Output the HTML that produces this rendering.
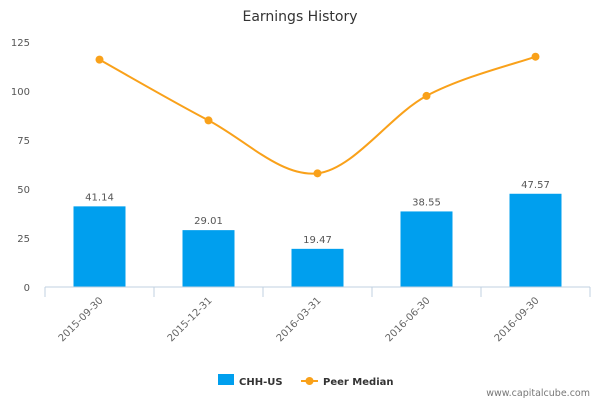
<!DOCTYPE html>
<html><head><meta charset="utf-8"><style>
html,body{margin:0;padding:0;background:#fff;}
svg{display:block;font-family:"DejaVu Sans","Liberation Sans",sans-serif;}
</style></head><body>
<svg id="chart" width="600" height="400" viewBox="0 0 600 400">
<text x="300" y="21" text-anchor="middle" font-size="14" fill="#333">Earnings History</text>
<g id="grid"></g>
<g id="bars"></g>
<g id="line"></g>
<g id="xaxis"></g>
<g>
<g>
<rect x="218" y="374" width="16" height="11" fill="#009FEE"/>
<text x="239" y="385" font-size="10" font-weight="bold" fill="#333">CHH-US</text></g>
<g>
<line x1="301" y1="381" x2="318" y2="381" stroke="#F9A11A" stroke-width="2"/>
<circle cx="309.5" cy="381" r="4" fill="#F9A11A"/>
<text x="323" y="385" font-size="10" font-weight="bold" fill="#333">Peer Median</text></g>
</g>
<text x="590" y="396" text-anchor="end" font-size="9.5" fill="#777">www.capitalcube.com</text>
</svg>
<script>
const categories=["2015-09-30","2015-12-31","2016-03-31","2016-06-30","2016-09-30"];
const chhValues=[41.14,29.01,19.47,38.55,47.57];
const peerValues=[116,85,58,97.5,117.5];
const yTicks=[0,25,50,75,100,125];
const NS="http://www.w3.org/2000/svg";
const left=45,right=590,y0=287,pxPerUnit=1.96;
const band=(right-left)/categories.length;
const xC=i=>left+band*(i+0.5);
const y=v=>y0-v*pxPerUnit;
function mk(tag,attrs,parent,txt){const e=document.createElementNS(NS,tag);for(const k in attrs)e.setAttribute(k,attrs[k]);if(txt!==undefined)e.textContent=txt;parent.appendChild(e);return e;}
const grid=document.getElementById('grid');
yTicks.forEach(t=>{const e=mk('text',{x:30,y:y(t)+4,'text-anchor':'end','font-size':10,fill:'#555'},grid,String(t));

});
const bars=document.getElementById('bars');
chhValues.forEach((v,i)=>{const r=mk('rect',{x:xC(i)-26,y:y(v),width:52,height:v*pxPerUnit,fill:'#009FEE'},bars);


const t=mk('text',{x:xC(i),y:y(v)-6,'text-anchor':'middle','font-size':10,fill:'#555'},bars,v.toFixed(2));

});
const xa=document.getElementById('xaxis');
const al=mk('line',{x1:left,y1:y0,x2:right,y2:y0,stroke:'#C0D0E0',"stroke-width":1},xa);


for(let i=0;i<=categories.length;i++){const x=left+band*i;const tk=mk('line',{x1:x,y1:y0,x2:x,y2:y0+10,stroke:'#C0D0E0'},xa);

}
categories.forEach((c,i)=>{const x=xC(i)+4,yy=y0+14;const t=mk('text',{x:x,y:yy,'text-anchor':'end','font-size':10,fill:'#666',transform:`rotate(-45 ${x} ${yy})`},xa,c);

});
const lg=document.getElementById('line');
const pts=peerValues.map((v,i)=>[xC(i),y(v)]);
let d=`M${pts[0][0]},${pts[0][1]}`;
for(let i=0;i<pts.length-1;i++){const p0=pts[Math.max(0,i-1)],p1=pts[i],p2=pts[i+1],p3=pts[Math.min(pts.length-1,i+2)];const k=1/6;
d+=` C${p1[0]+(p2[0]-p0[0])*k},${p1[1]+(p2[1]-p0[1])*k} ${p2[0]-(p3[0]-p1[0])*k},${p2[1]-(p3[1]-p1[1])*k} ${p2[0]},${p2[1]}`;}
const path=mk('path',{d:d,fill:'none',stroke:'#F9A11A','stroke-width':2},lg);


pts.forEach((p,i)=>{const c=mk('circle',{cx:p[0],cy:p[1],r:4,fill:'#F9A11A'},lg);

});
</script>
</body></html>
